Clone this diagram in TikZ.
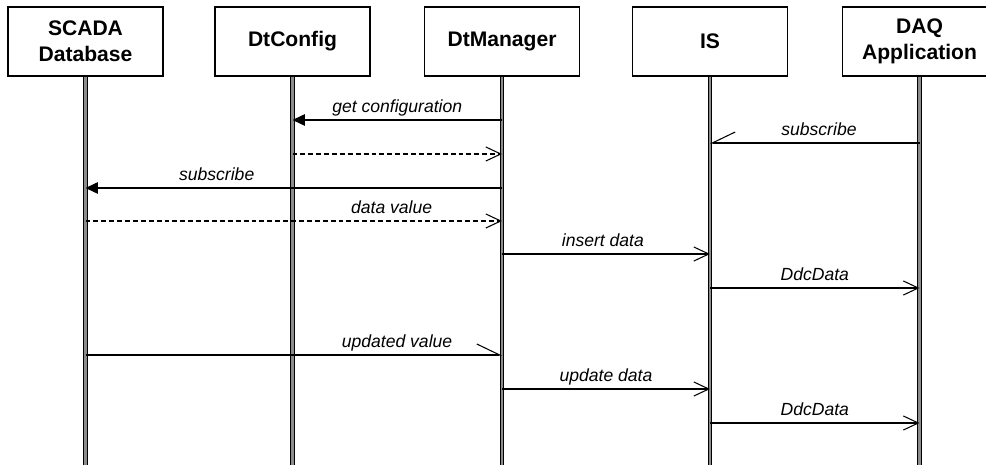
\documentclass[tikz,border=0pt]{standalone}
\usepackage{fontspec}
\setmainfont{Liberation Sans}
\usetikzlibrary{arrows.meta}
\definecolor{lane}{HTML}{8C8C8C}
\tikzset{
  actor/.style={draw, rectangle, line width=0.6pt, minimum width=3.1cm, minimum height=1.38cm, align=center, font=\bfseries\fontsize{12}{14.8}\selectfont, inner sep=2pt},
  lifeline/.style={line width=0.55pt, double=lane, double distance=1.2pt},
  call/.style={-{Triangle[length=7pt, width=6.5pt]}, line width=0.6pt},
  msg/.style={-{Straight Barb[length=8.5pt, width=8pt]}, line width=0.6pt},
  reply/.style={msg, dash pattern=on 2.8pt off 1.7pt},
  sigr/.style={-{Straight Barb[harpoon, length=13pt, width=12.5pt]}, line width=0.6pt},
  sigl/.style={-{Straight Barb[harpoon, swap, length=13pt, width=12.5pt]}, line width=0.6pt},
  lbl/.style={font=\itshape\fontsize{10}{12}\selectfont, anchor=base, yshift=4pt, inner sep=0pt}
}
\begin{document}
\begin{tikzpicture}[x=0.02cm, y=-0.02cm]
\useasboundingbox (0,0) rectangle (986,465);
\clip (0,0) rectangle (986,465);
% participants
\node[actor] (scada) at (85.5,41.5) {SCADA\\Database};
\node[actor] (cfg) at (292.5,41.5) {DtConfig};
\node[actor] (mgr) at (502,41.5) {DtManager};
\node[actor] (is) at (710,41.5) {IS};
\node[actor] (daq) at (919.5,41.5) {DAQ\\Application};
% message rows
\coordinate (bot) at (0,466);
\coordinate (r1) at (0,120);
\coordinate (r2) at (0,143);
\coordinate (r3) at (0,154);
\coordinate (r4) at (0,188);
\coordinate (r5) at (0,221);
\coordinate (r6) at (0,254);
\coordinate (r7) at (0,288);
\coordinate (r8) at (0,355);
\coordinate (r9) at (0,389);
\coordinate (r10) at (0,423);
% lifelines
\draw[lifeline] (scada.south) -- (scada |- bot);
\draw[lifeline] (cfg.south) -- (cfg |- bot);
\draw[lifeline] (mgr.south) -- (mgr |- bot);
\draw[lifeline] (is.south) -- (is |- bot);
\draw[lifeline] (daq.south) -- (daq |- bot);
% messages
\draw[call] (mgr |- r1) -- node[lbl]{get configuration} (cfg |- r1);
\draw[sigl] (daq |- r2) -- node[lbl, pos=0.48]{subscribe} (is |- r2);
\draw[reply] (cfg |- r3) -- (mgr |- r3);
\draw[call] (mgr |- r4) -- node[lbl, pos=0.685]{subscribe} (scada |- r4);
\draw[reply] (scada |- r5) -- node[lbl, pos=0.735]{data value} (mgr |- r5);
\draw[msg] (mgr |- r6) -- node[lbl, pos=0.485]{insert data} (is |- r6);
\draw[msg] (is |- r7) -- node[lbl]{DdcData} (daq |- r7);
\draw[sigr] (scada |- r8) -- node[lbl, pos=0.748]{updated value} (mgr |- r8);
\draw[msg] (mgr |- r9) -- node[lbl]{update data} (is |- r9);
\draw[msg] (is |- r10) -- node[lbl]{DdcData} (daq |- r10);
\end{tikzpicture}
\end{document}
